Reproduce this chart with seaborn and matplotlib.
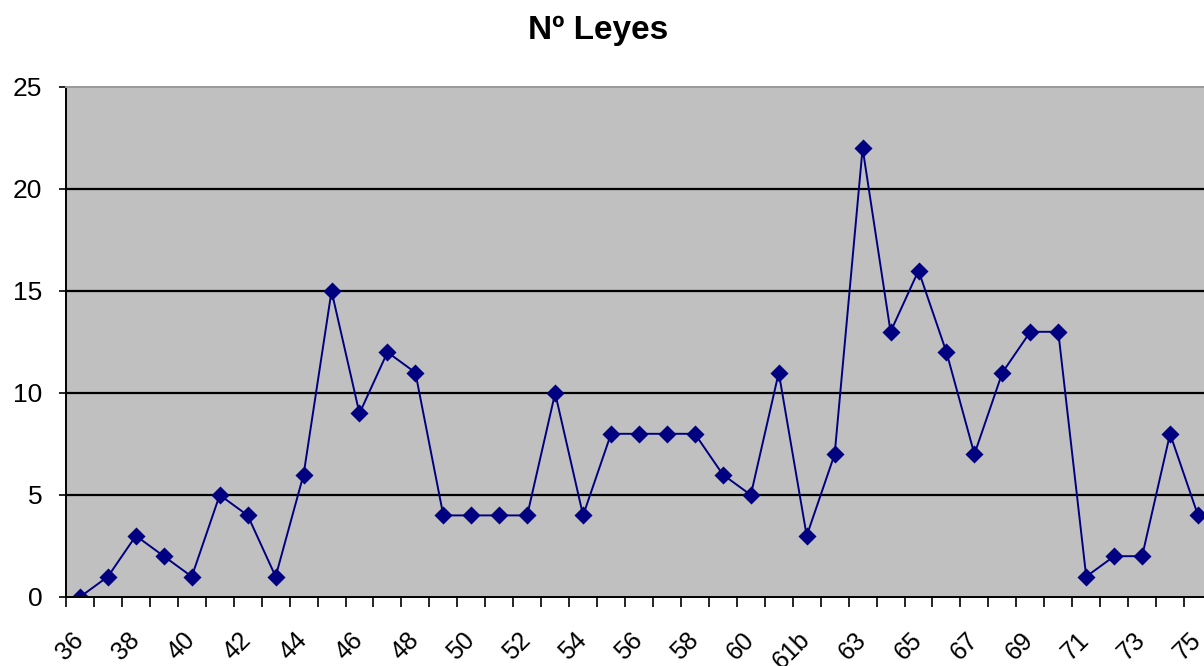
import numpy as np
import pandas as pd
import matplotlib
matplotlib.use("Agg")
import matplotlib.pyplot as plt
import matplotlib.transforms as mtransforms
import seaborn as sns

# Data
categories = [str(n) for n in range(36, 62)] + ["61b"] + [str(n) for n in range(62, 76)]
leyes = [0, 1, 3, 2, 1, 5, 4, 1, 6, 15, 9, 12, 11, 4, 4, 4, 4, 10, 4, 8,
         8, 8, 8, 6, 5, 11, 3, 7, 22, 13, 16, 12, 7, 11, 13, 13, 1, 2, 2, 8, 4]
shown_labels = categories[::2]
y_ticks = [0, 5, 10, 15, 20, 25]

df = pd.DataFrame({"cat": categories, "n": leyes})

sns.set_style("white")
plt.rcParams["font.family"] = ["Liberation Sans", "DejaVu Sans"]
plt.rcParams["text.color"] = "black"
plt.rcParams["xtick.color"] = "black"
plt.rcParams["ytick.color"] = "black"

fig = plt.figure(figsize=(12.04, 6.66), dpi=100)
ax = fig.add_axes([66 / 1204, 1 - 597 / 666, (1212 - 66) / 1204, (597 - 87) / 666])
ax.set_facecolor("#C0C0C0")

sns.pointplot(data=df, x="cat", y="n", order=categories, color="#000080",
              markers="D", markersize=8, linewidth=1.4, errorbar=None, ax=ax)

n = len(categories)
ax.set_xlim(-0.5, n - 0.5)
ax.set_ylim(0, 25)

# gridlines
for v in y_ticks[1:-1]:
    ax.axhline(v, color="black", lw=1.6, zorder=0.5)

# ticks
ax.set_yticks(y_ticks)
ax.set_yticklabels([str(v) for v in y_ticks], fontsize=19)
ax.tick_params(axis="y", direction="out", length=5, width=1.2, color="black", left=True, pad=12)

ax.set_xticks(list(range(0, n, 2)))
ax.set_xticklabels(shown_labels, rotation=45, ha="right", va="top", fontsize=18)
ax.set_xticks(np.arange(-0.5, n, 1), minor=True)
ax.tick_params(axis="x", which="major", length=0, pad=22)
ax.tick_params(axis="x", which="minor", direction="out", length=7, width=1.2,
               color="black", bottom=True)
shift = mtransforms.ScaledTranslation(8 / 100, 0, fig.dpi_scale_trans)
for lab in ax.get_xticklabels():
    lab.set_transform(lab.get_transform() + shift)

ax.set_xlabel("")
ax.set_ylabel("")

for side in ["left", "bottom"]:
    ax.spines[side].set_color("black")
    ax.spines[side].set_linewidth(1.4)
ax.spines["top"].set_color("#999999")
ax.spines["top"].set_linewidth(1.4)
ax.spines["right"].set_visible(False)

fig.text(598 / 1204, 1 - 30 / 666, "Nº Leyes", ha="center", va="center",
         fontsize=24, fontweight="bold", color="black")

fig.savefig("out.png", dpi=100)
